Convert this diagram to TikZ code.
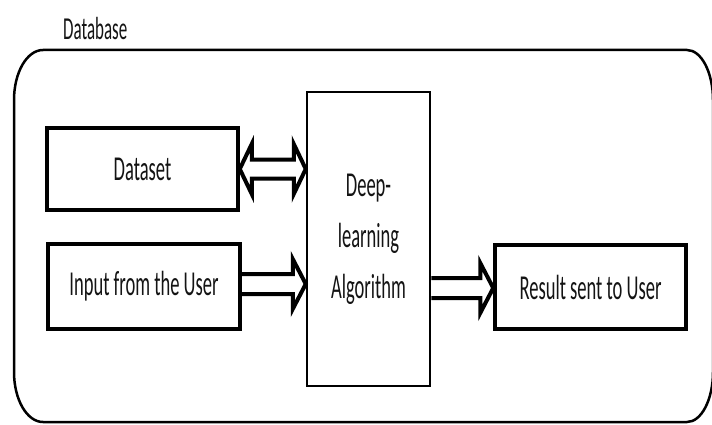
\documentclass[tikz,border=0pt]{standalone}
\usepackage{fontspec}
\usetikzlibrary{calc, positioning}
\newfontfamily\boxfont{Carlito}[FakeStretch=0.53]
\definecolor{textgray}{RGB}{20, 20, 20}

\begin{document}
\begin{tikzpicture}[
    x=1pt, y=1pt,
    box/.style={rectangle, draw, line width=3.5pt, inner sep=0pt, align=center,
                text=textgray, font=\boxfont\fontsize{35}{51}\selectfont},
    fatarrow/.style={line width=4pt, to path={
        let \p1=(\tikztostart), \p2=(\tikztotarget) in
        (\x1,\y1+10pt) -- (\x2-13pt,\y1+10pt) -- (\x2-13pt,\y1+25pt) -- (\x2,\y1)
        -- (\x2-13pt,\y1-25pt) -- (\x2-13pt,\y1-10pt) -- (\x1,\y1-10pt)}},
    fatdarrow/.style={line width=4pt, to path={
        let \p1=(\tikztostart), \p2=(\tikztotarget) in
        (\x1,\y1) -- (\x1+12pt,\y1+25pt) -- (\x1+12pt,\y1+9.5pt) -- (\x2-12pt,\y1+9.5pt)
        -- (\x2-12pt,\y1+25pt) -- (\x2,\y1) -- (\x2-12pt,\y1-25pt) -- (\x2-12pt,\y1-9.5pt)
        -- (\x1+12pt,\y1-9.5pt) -- (\x1+12pt,\y1-25pt) -- cycle}}
]
\useasboundingbox (0,0) rectangle (712,424);

% outer frame
\draw[line width=2.5pt] (14,52) -- (14,324)
    arc[start angle=180, end angle=90, x radius=29pt, y radius=50pt] -- (687,374)
    arc[start angle=90, end angle=0, x radius=26pt, y radius=50pt] -- (713,52)
    arc[start angle=0, end angle=-90, x radius=26pt, y radius=50pt] -- (43,2)
    arc[start angle=270, end angle=180, x radius=29pt, y radius=50pt] -- cycle;
\node[anchor=base west, inner sep=0pt, text=textgray,
      font=\boxfont\fontsize{32}{38}\selectfont] (dbtitle) at (63,384) {Database};

\node[box, minimum width=191pt, minimum height=82pt] (dataset) at (142.5,255) {Dataset};
\node[box, minimum width=192pt, minimum height=85pt] (input) at (144,137.5) {Input from the User};
\node[box, line width=2.5pt, minimum width=123pt, minimum height=294pt] (algo) at (368.5,185)
    {Deep-\\learning\\Algorithm};
\node[box, minimum width=191pt, minimum height=84pt] (result) at (590.5,137) {Result sent to User};

\draw[fatdarrow] (dataset.east) to (algo.west |- 0,254);
\draw[fatarrow] (input.east |- 0,140) to (algo.west |- 0,140);
\draw[fatarrow] (algo.east |- 0,136) to (result.west |- 0,136);
\end{tikzpicture}
\end{document}
